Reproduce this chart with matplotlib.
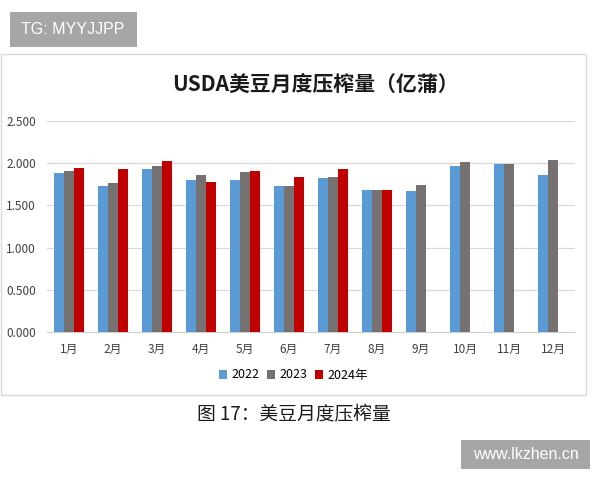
import numpy as np
import matplotlib
matplotlib.use("Agg")
import matplotlib.pyplot as plt
from matplotlib.patches import Rectangle

plt.rcParams['font.family'] = ['Noto Sans CJK SC', 'DejaVu Sans']

months = ['1月', '2月', '3月', '4月', '5月', '6月',
          '7月', '8月', '9月', '10月', '11月', '12月']
crush_2022 = [1.889, 1.735, 1.928, 1.802, 1.802, 1.735,
              1.830, 1.688, 1.676, 1.964, 1.995, 1.861]
crush_2023 = [1.909, 1.767, 1.972, 1.861, 1.901, 1.735,
              1.841, 1.688, 1.743, 2.011, 1.995, 2.035]
crush_2024 = [1.944, 1.936, 2.031, 1.778, 1.912, 1.834,
              1.928, 1.680, np.nan, np.nan, np.nan, np.nan]
series_names = ['2022', '2023', '2024年']
colors = ['#5B9BD5', '#767171', '#C00000']

fig = plt.figure(figsize=(6, 4.8), dpi=100)
W, H = 600, 480

# chart frame
fig.patches.append(Rectangle((1 / W, 1 - 395 / H), 585 / W, 341 / H,
                             transform=fig.transFigure, fill=False,
                             edgecolor='#D9D9D9', linewidth=1.0))

ax = fig.add_axes([47 / W, 1 - 332 / H, 528 / W, 211 / H])
x = np.arange(len(months))
bw = 0.22
for i, vals in enumerate([crush_2022, crush_2023, crush_2024]):
    ax.bar(x + (i - 1) * bw, vals, width=bw, color=colors[i],
           label=series_names[i], zorder=3)

ax.set_xlim(-0.5, len(months) - 0.5)
ax.set_ylim(0, 2.5)
ax.set_yticks(np.arange(0, 2.51, 0.5))
ax.set_yticklabels([f'{v:.3f}' for v in np.arange(0, 2.51, 0.5)],
                   fontsize=8.5, color='#404040')
ax.set_xticks(x)
ax.set_xticklabels(months, fontsize=8.5, color='#404040')
ax.tick_params(length=0, pad=8)
ax.yaxis.grid(True, color='#D9D9D9', linewidth=0.9, zorder=0)
for s in ['top', 'right', 'left']:
    ax.spines[s].set_visible(False)
ax.spines['bottom'].set_color('#D0D0D0')

fig.text(315 / W, 1 - 85 / H, 'USDA美豆月度压榨量（亿蒲）', ha='center',
         va='center', fontsize=15, fontweight='bold', color='#1a1a1a')

ax.legend(loc='center', bbox_to_anchor=(293 / W, 1 - 375 / H),
          bbox_transform=fig.transFigure, ncol=3, frameon=False,
          fontsize=9, handlelength=0.7, handleheight=0.7,
          handletextpad=0.3, columnspacing=0.6)

fig.text(294 / W, 1 - 415 / H, '图 17：美豆月度压榨量', ha='center',
         va='center', fontsize=13.5, color='#1a1a1a')

# watermark boxes
fig.patches.append(Rectangle((10 / W, 1 - 47 / H), 127 / W, 35 / H,
                             transform=fig.transFigure, facecolor='#A6A6A6',
                             edgecolor='none'))
fig.text(73 / W, 1 - 29.5 / H, 'TG: MYYJJPP', ha='center', va='center',
         fontsize=11.5, color='white',
         family=['Liberation Sans', 'DejaVu Sans'])
fig.patches.append(Rectangle((461 / W, 1 - 469 / H), 129 / W, 29 / H,
                             transform=fig.transFigure, facecolor='#A6A6A6',
                             edgecolor='none'))
fig.text(525.5 / W, 1 - 454.5 / H, 'www.lkzhen.cn', ha='center', va='center',
         fontsize=11.5, color='white',
         family=['Liberation Sans', 'DejaVu Sans'])

fig.savefig('out.png', dpi=100)
